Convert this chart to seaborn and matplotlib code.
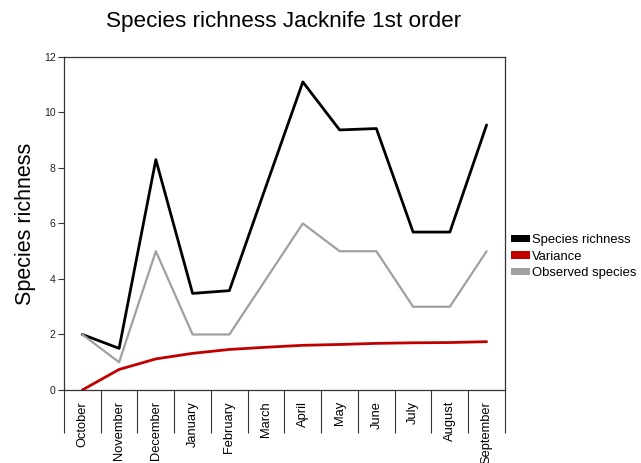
import numpy as np
import matplotlib
matplotlib.use("Agg")
import matplotlib.pyplot as plt
from matplotlib.patches import Patch
import pandas as pd
import seaborn as sns

# data
months = ["October", "November", "December", "January", "February", "March",
          "April", "May", "June", "July", "August", "September"]
richness = [2.0, 1.5, 8.3, 3.48, 3.58, 7.35, 11.1, 9.37, 9.42, 5.69, 5.69, 9.55]
variance = [0.0, 0.74, 1.12, 1.32, 1.46, 1.54, 1.61, 1.64, 1.68, 1.70, 1.71, 1.74]
observed = [2, 1, 5, 2, 2, 4, 6, 5, 5, 3, 3, 5]

series = ["Species richness", "Variance", "Observed species"]
colors = ["#000000", "#c00000", "#a0a0a0"]
widths = [2.0, 2.0, 1.6]

df = pd.concat([
    pd.DataFrame({"month": months, "value": v, "series": s})
    for s, v in zip(series, [richness, variance, observed])
], ignore_index=True)

sns.set_style("white")
plt.rcParams['font.family'] = ['Liberation Sans', 'DejaVu Sans']
plt.rcParams['text.color'] = 'black'
plt.rcParams['axes.labelcolor'] = 'black'
plt.rcParams['xtick.labelcolor'] = 'black'
plt.rcParams['ytick.labelcolor'] = '#222222'

fig = plt.figure(figsize=(6.41, 4.63), dpi=100)
ax = fig.add_axes([0.0998, 0.1577, 0.688, 0.7193])

sns.lineplot(data=df, x="month", y="value", hue="series", hue_order=series,
             palette=colors, sort=False, legend=False, ax=ax)
for line, w in zip(ax.get_lines(), widths):
    line.set_linewidth(w)

ax.set_xlim(-0.5, len(months) - 0.5)
ax.set_ylim(0, 12)
ax.set_yticks(np.arange(0, 13, 2))
ax.tick_params(axis="y", direction="out", length=4, width=0.8, labelsize=7.5,
               left=True, color="#333333", pad=2)

ax.set_xticks(np.arange(len(months)))
ax.set_xticklabels(months, rotation=90, fontsize=9.3)
ax.set_xticks(np.arange(-0.5, len(months), 1), minor=True)
ax.tick_params(axis="x", which="major", length=0, pad=8)
ax.tick_params(axis="x", which="minor", direction="out", length=31, width=0.8,
               bottom=True, color="#333333")

for sp in ax.spines.values():
    sp.set_color("#333333")
    sp.set_linewidth(0.9)

ax.set_xlabel("")
ax.set_ylabel("Species richness", fontsize=15.5, labelpad=6)
fig.text(0.443, 0.953, "Species richness Jacknife 1st order", fontsize=16.2,
         ha="center", va="center")

handles = [Patch(facecolor=c, edgecolor="none") for c in colors]
ax.legend(handles, series, loc="center left", bbox_to_anchor=(1.013, 0.40),
          frameon=False, fontsize=9.4, handlelength=1.5, handleheight=0.5,
          handletextpad=0.15, labelspacing=0.35, borderaxespad=0, borderpad=0)

fig.savefig("out.png", dpi=100)
